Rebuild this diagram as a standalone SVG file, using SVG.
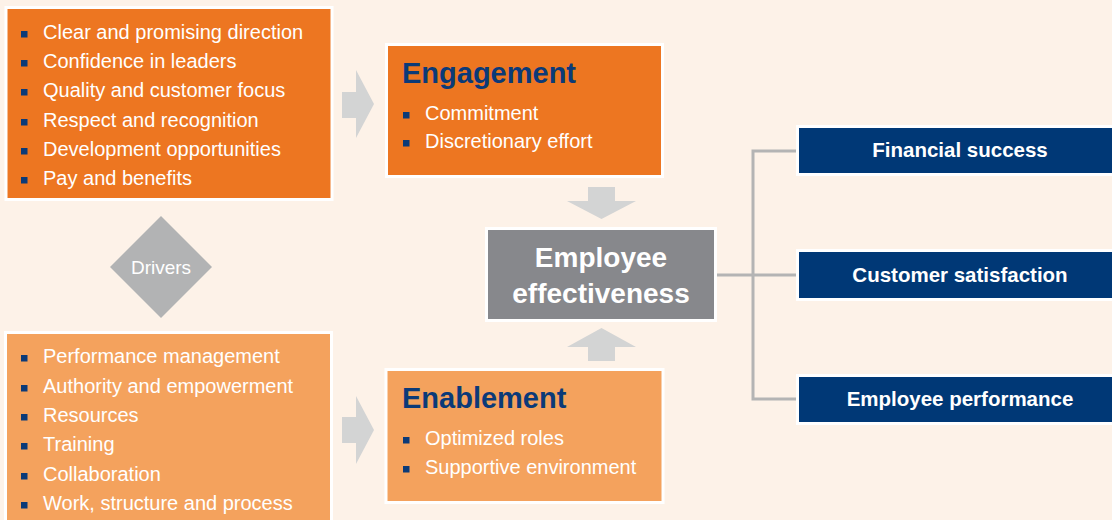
<svg xmlns="http://www.w3.org/2000/svg" width="1112" height="520" viewBox="0 0 1112 520">
<style>
.box{stroke:#ffffff;stroke-width:3}
.dark{fill:#ed7621}
.light{fill:#f4a25d}
.navy{fill:#003876}
.gray{fill:#87888c}
.arrow{fill:#d3d4d4}
.b{fill:#0b3a78}
.t{font-family:"Liberation Sans",Arial,sans-serif;font-size:20px;fill:#ffffff}
.title{font-family:"Liberation Sans",Arial,sans-serif;font-size:29px;font-weight:bold;fill:#0b3a78}
.ee{font-family:"Liberation Sans",Arial,sans-serif;font-size:28px;font-weight:bold;fill:#ffffff}
.res{font-family:"Liberation Sans",Arial,sans-serif;font-size:20.5px;font-weight:bold;fill:#ffffff}
.conn{fill:none;stroke:#b4b4b4;stroke-width:3}
</style>
<rect width="1112" height="520" fill="#fdf2e8"/>
<g id="connectors">
<path class="conn" d="M717 275 H797"/>
<path class="conn" d="M797 151 H753 V399 H797"/>
<path class="arrow" d="M342 92 H356 V70 L374 104 L356 138 V118 H342 Z"/>
<path class="arrow" d="M342 417 H356 V396 L374 430 L356 464 V443 H342 Z"/>
<path class="arrow" d="M588 187 H615 V201 H636 L601.5 219 L567 201 H588 Z"/>
<path class="arrow" d="M588 361 H615 V347 H636 L601.5 328 L567 347 H588 Z"/>
</g>
<g id="engagement-drivers">
<rect class="box dark" x="6" y="7.5" width="326" height="192"/>
<g class="b">
<rect x="21" y="31" width="6.5" height="6.5"/>
<rect x="21" y="60" width="6.5" height="6.5"/>
<rect x="21" y="89" width="6.5" height="6.5"/>
<rect x="21" y="119" width="6.5" height="6.5"/>
<rect x="21" y="148" width="6.5" height="6.5"/>
<rect x="21" y="177" width="6.5" height="6.5"/>
</g>
<text class="t" x="43" y="39">Clear and promising direction</text>
<text class="t" x="43" y="68">Confidence in leaders</text>
<text class="t" x="43" y="97">Quality and customer focus</text>
<text class="t" x="43" y="127">Respect and recognition</text>
<text class="t" x="43" y="156">Development opportunities</text>
<text class="t" x="43" y="185">Pay and benefits</text>
</g>
<g id="drivers">
<path d="M161 216 L212 267 L161 318 L110 267 Z" fill="#b2b3b4"/>
<text x="161" y="274" text-anchor="middle" font-family="Liberation Sans, Arial, sans-serif" font-size="19" fill="#ffffff">Drivers</text>
</g>
<g id="enablement-drivers">
<rect class="box light" x="5.5" y="332.5" width="326" height="200"/>
<g class="b">
<rect x="21" y="355" width="6.5" height="6.5"/>
<rect x="21" y="385" width="6.5" height="6.5"/>
<rect x="21" y="414" width="6.5" height="6.5"/>
<rect x="21" y="443" width="6.5" height="6.5"/>
<rect x="21" y="473" width="6.5" height="6.5"/>
<rect x="21" y="502" width="6.5" height="6.5"/>
</g>
<text class="t" x="43" y="363">Performance management</text>
<text class="t" x="43" y="393">Authority and empowerment</text>
<text class="t" x="43" y="422">Resources</text>
<text class="t" x="43" y="451">Training</text>
<text class="t" x="43" y="481">Collaboration</text>
<text class="t" x="43" y="510">Work, structure and process</text>
</g>
<g id="engagement">
<rect class="box dark" x="386.5" y="44.5" width="276" height="132"/>
<text class="title" x="402" y="83">Engagement</text>
<rect class="b" x="403" y="112" width="6.5" height="6.5"/>
<rect class="b" x="403" y="140" width="6.5" height="6.5"/>
<text class="t" x="425" y="120">Commitment</text>
<text class="t" x="425" y="148">Discretionary effort</text>
</g>
<g id="enablement">
<rect class="box light" x="386" y="369.5" width="277" height="133"/>
<text class="title" x="402" y="408">Enablement</text>
<rect class="b" x="403" y="437" width="6.5" height="6.5"/>
<rect class="b" x="403" y="466" width="6.5" height="6.5"/>
<text class="t" x="425" y="445">Optimized roles</text>
<text class="t" x="425" y="474">Supportive environment</text>
</g>
<g id="employee-effectiveness">
<rect class="box gray" x="486.5" y="228.5" width="229" height="92"/>
<text class="ee" x="601" y="267" text-anchor="middle">Employee</text>
<text class="ee" x="601" y="303" text-anchor="middle">effectiveness</text>
</g>
<g id="financial-success">
<rect class="box navy" x="797.5" y="126.5" width="320" height="48"/>
<text class="res" x="960" y="157" text-anchor="middle">Financial success</text>
</g>
<g id="customer-satisfaction">
<rect class="box navy" x="797.5" y="250.5" width="320" height="49"/>
<text class="res" x="960" y="282" text-anchor="middle">Customer satisfaction</text>
</g>
<g id="employee-performance">
<rect class="box navy" x="797.5" y="375.5" width="320" height="48"/>
<text class="res" x="960" y="406" text-anchor="middle">Employee performance</text>
</g>
</svg>
